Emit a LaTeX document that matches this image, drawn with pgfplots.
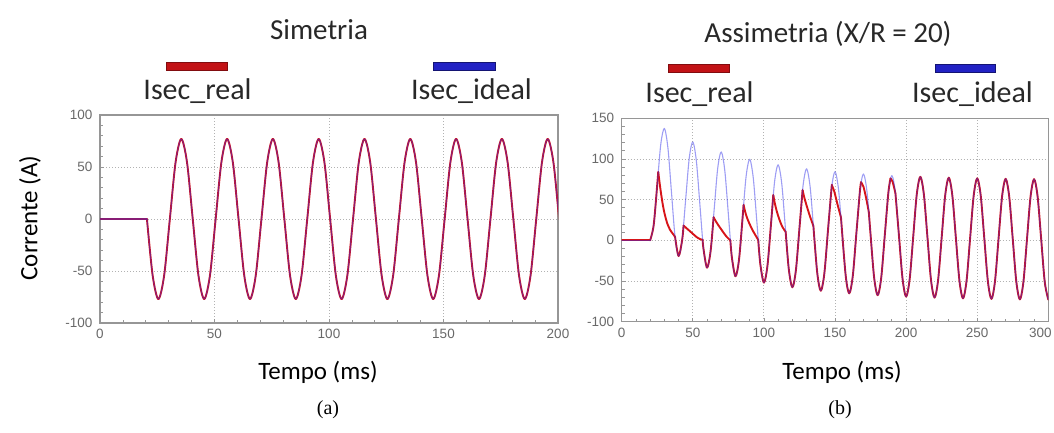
\documentclass[border=0pt]{standalone}
\usepackage{fontspec}
\setmainfont{Carlito}
\newfontfamily\tickfont{Liberation Sans}
\newfontfamily\capfont{Liberation Serif}
\usepackage{pgfplots}
\pgfplotsset{compat=1.18}
\usepackage{pgfplotstable}
\definecolor{rl}{RGB}{215,20,25}
\definecolor{bl}{RGB}{40,40,230}
\definecolor{tk}{RGB}{105,105,105}
\definecolor{fr}{RGB}{150,150,150}
\definecolor{tx}{RGB}{40,40,40}

\pgfplotstableread[row sep=\\]{t v\\
20.5 0\\ 23 -54.45\\ 25.5 -77\\ 28 -54.45\\ 30.5 0\\ 33 54.45\\ 35.5 77\\ 38 54.45\\
40.5 0\\ 43 -54.45\\ 45.5 -77\\ 48 -54.45\\ 50.5 0\\ 53 54.45\\ 55.5 77\\ 58 54.45\\
60.5 0\\ 63 -54.45\\ 65.5 -77\\ 68 -54.45\\ 70.5 0\\ 73 54.45\\ 75.5 77\\ 78 54.45\\
80.5 0\\ 83 -54.45\\ 85.5 -77\\ 88 -54.45\\ 90.5 0\\ 93 54.45\\ 95.5 77\\ 98 54.45\\
100.5 0\\ 103 -54.45\\ 105.5 -77\\ 108 -54.45\\ 110.5 0\\ 113 54.45\\ 115.5 77\\ 118 54.45\\
120.5 0\\ 123 -54.45\\ 125.5 -77\\ 128 -54.45\\ 130.5 0\\ 133 54.45\\ 135.5 77\\ 138 54.45\\
140.5 0\\ 143 -54.45\\ 145.5 -77\\ 148 -54.45\\ 150.5 0\\ 153 54.45\\ 155.5 77\\ 158 54.45\\
160.5 0\\ 163 -54.45\\ 165.5 -77\\ 168 -54.45\\ 170.5 0\\ 173 54.45\\ 175.5 77\\ 178 54.45\\
180.5 0\\ 183 -54.45\\ 185.5 -77\\ 188 -54.45\\ 190.5 0\\ 193 54.45\\ 195.5 77\\ 198 54.45\\
200.5 0\\ 203 -54.45\\
}\simdata

\pgfplotstableread[row sep=\\]{t v\\
20 0\\ 22.5 18.92\\ 25 68.60\\ 27.5 118.38\\ 30 137.60\\ 32.5 113.56\\ 35 58.96\\ 37.5 4.44\\
40 -19.35\\ 42.5 0.29\\ 45 50.66\\ 47.5 101.11\\ 50 120.97\\ 52.5 97.55\\ 55 43.54\\ 57.5 -10.41\\
60 -33.63\\ 62.5 -13.46\\ 65 37.42\\ 67.5 88.36\\ 70 108.69\\ 72.5 85.73\\ 75 32.16\\ 77.5 -21.37\\
80 -44.19\\ 82.5 -23.63\\ 85 27.64\\ 87.5 78.94\\ 90 99.62\\ 92.5 77.00\\ 95 23.75\\ 97.5 -29.46\\
100 -51.98\\ 102.5 -31.13\\ 105 20.41\\ 107.5 71.98\\ 110 92.92\\ 112.5 70.55\\ 115 17.54\\ 117.5 -35.44\\
120 -57.74\\ 122.5 -36.67\\ 125 15.07\\ 127.5 66.84\\ 130 87.98\\ 132.5 65.79\\ 135 12.96\\ 137.5 -39.85\\
140 -61.99\\ 142.5 -40.77\\ 145 11.13\\ 147.5 63.05\\ 150 84.32\\ 152.5 62.27\\ 155 9.57\\ 157.5 -43.12\\
160 -65.13\\ 162.5 -43.79\\ 165 8.22\\ 167.5 60.25\\ 170 81.62\\ 172.5 59.67\\ 175 7.06\\ 177.5 -45.53\\
180 -67.45\\ 182.5 -46.02\\ 185 6.07\\ 187.5 58.18\\ 190 79.63\\ 192.5 57.75\\ 195 5.22\\ 197.5 -47.30\\
200 -69.16\\ 202.5 -47.67\\ 205 4.49\\ 207.5 56.65\\ 210 78.16\\ 212.5 56.33\\ 215 3.86\\ 217.5 -48.62\\
220 -70.43\\ 222.5 -48.89\\ 225 3.31\\ 227.5 55.52\\ 230 77.07\\ 232.5 55.29\\ 235 2.85\\ 237.5 -49.59\\
240 -71.36\\ 242.5 -49.79\\ 245 2.45\\ 247.5 54.69\\ 250 76.27\\ 252.5 54.52\\ 255 2.10\\ 257.5 -50.30\\
260 -72.05\\ 262.5 -50.45\\ 265 1.81\\ 267.5 54.07\\ 270 75.67\\ 272.5 53.94\\ 275 1.55\\ 277.5 -50.84\\
280 -72.56\\ 282.5 -50.94\\ 285 1.33\\ 287.5 53.61\\ 290 75.24\\ 292.5 53.52\\ 295 1.15\\ 297.5 -51.23\\
300 -72.94\\
}\asymideal

\pgfplotstableread[row sep=\\]{t v\\
192.5 57.75\\ 195 5.22\\ 197.5 -47.30\\
200 -69.16\\ 202.5 -47.67\\ 205 4.49\\ 207.5 56.65\\ 210 78.16\\ 212.5 56.33\\ 215 3.86\\ 217.5 -48.62\\
220 -70.43\\ 222.5 -48.89\\ 225 3.31\\ 227.5 55.52\\ 230 77.07\\ 232.5 55.29\\ 235 2.85\\ 237.5 -49.59\\
240 -71.36\\ 242.5 -49.79\\ 245 2.45\\ 247.5 54.69\\ 250 76.27\\ 252.5 54.52\\ 255 2.10\\ 257.5 -50.30\\
260 -72.05\\ 262.5 -50.45\\ 265 1.81\\ 267.5 54.07\\ 270 75.67\\ 272.5 53.94\\ 275 1.55\\ 277.5 -50.84\\
280 -72.56\\ 282.5 -50.94\\ 285 1.33\\ 287.5 53.61\\ 290 75.24\\ 292.5 53.52\\ 295 1.15\\ 297.5 -51.23\\
300 -72.94\\
}\asymrealtail

\pgfplotsset{myax/.style={
  scale only axis,
  axis line style={fr, line width=1.1pt},
  tick style={fr, line width=0.8pt},
  major tick length=4pt, minor tick length=3pt,
  tick align=inside, xtick pos=bottom, ytick pos=left,
  grid=major,
  major grid style={gray!60, line width=0.9pt, dash pattern=on 1pt off 2pt},
  tick label style={font=\tickfont\fontsize{13.5}{13.5}\selectfont, text=tk},
  yticklabel style={xshift=-4pt},
  xticklabel style={yshift=-3pt},
  minor x tick num=4, minor y tick num=4,
  every axis plot/.append style={line join=round, line cap=round},
}}
\tikzset{
  realln/.style={rl, line width=1.9pt, smooth},
  idealln/.style={bl, line width=1.1pt, opacity=0.45, smooth},
}

\begin{document}
\begin{tikzpicture}[x=1pt,y=1pt]
\useasboundingbox (0,0) rectangle (1054,432);

% ---------------- (a) Simetria ----------------
\begin{axis}[myax, at={(100pt,109pt)}, anchor=south west,
  width=458pt, height=208pt,
  xmin=0, xmax=200, ymin=-100, ymax=100,
  xtick={0,50,100,150,200}, xticklabels={0,50,100,150,200},
  ytick={-100,-50,0,50,100}, yticklabels={-100,-50,0,50,100}]
\addplot[rl, line width=1.9pt] coordinates {(0,0) (20.5,0)};
\addplot[realln] table[x=t,y=v] {\simdata};
\addplot[bl, line width=1.1pt, opacity=0.45] coordinates {(0,0) (20.5,0)};
\addplot[idealln] table[x=t,y=v] {\simdata};
\end{axis}

% ---------------- (b) Assimetria ----------------
\begin{axis}[myax, at={(621.7pt,110.3pt)}, anchor=south west,
  width=426.6pt, height=203.4pt,
  xmin=0, xmax=300, ymin=-100, ymax=150,
  xtick={0,50,100,150,200,250,300},
  xticklabels={0,50,100,150,200,250,\hspace*{-16pt}300},
  ytick={-100,-50,0,50,100,150}, yticklabels={-100,-50,0,50,100,150}]
% real (saturated CT)
\addplot[rl, line width=1.9pt] coordinates {(0,0) (20,0)};
\addplot[realln] coordinates {(20,0) (22.5,18.92) (25,68.60) (25.7,84)};
\addplot[realln] coordinates {(25.7,84) (27,66) (28.5,48) (30,34) (32,21) (34,13) (36,8) (37.5,4.44)};
\addplot[realln] coordinates {(37.5,4.44) (40,-19.35) (42.5,0.29) (43.5,18.2)};
\addplot[realln] coordinates {(43.5,18.2) (45.5,15) (48,11.2) (50.5,7.3) (53,3.6) (55,1.6) (56.9,0.7)};
\addplot[realln] coordinates {(56.9,0.7) (57.5,-10.41) (60,-33.63) (62.5,-13.46) (64.6,28.4)};
\addplot[realln] coordinates {(64.6,28.4) (66,24) (68,18.5) (70,13.5) (72,8.5) (74,4) (76.4,0)};
\addplot[realln] coordinates {(76.4,0) (77.5,-21.37) (80,-44.19) (82.5,-23.63) (85,27.64) (85.7,43.5)};
\addplot[realln] coordinates {(85.7,43.5) (87,34) (88.5,26) (90.5,18) (92.5,11) (94.5,5) (96,0.5)};
\addplot[realln] coordinates {(96,0.5) (97.5,-29.46) (100,-51.98) (102.5,-31.13) (105,20.41) (106.6,55.6)};
\addplot[realln] coordinates {(106.6,55.6) (107.5,47) (109,36) (111,25) (113,16.5) (115.3,10.5)};
\addplot[realln] coordinates {(115.3,10.5) (117.5,-35.44) (120,-57.74) (122.5,-36.67) (125,15.07) (127.2,61.7)};
\addplot[realln] coordinates {(127.2,61.7) (128.5,52) (130.5,40) (132.5,29) (134.8,17.7)};
\addplot[realln] coordinates {(134.8,17.7) (137.5,-39.85) (140,-61.99) (142.5,-40.77) (145,11.13) (147.5,63.05) (147.8,67.7)};
\addplot[realln] coordinates {(147.8,67.7) (149.5,60) (151.5,46) (154.2,28.1)};
\addplot[realln] coordinates {(154.2,28.1) (157.5,-43.12) (160,-65.13) (162.5,-43.79) (165,8.22) (167.5,60.25) (168.3,71.5)};
\addplot[realln] coordinates {(168.3,71.5) (170,66) (172,51) (173.8,34.4)};
\addplot[realln] coordinates {(173.8,34.4) (175,7.06) (177.5,-45.53) (180,-67.45) (182.5,-46.02) (185,6.07) (187.5,58.18) (189,76.1)};
\addplot[realln] coordinates {(189,76.1) (190.5,72) (192.5,57.75)};
\addplot[realln] table[x=t,y=v] {\asymrealtail};
% ideal
\addplot[bl, line width=1.1pt, opacity=0.45] coordinates {(0,0) (20,0)};
\addplot[idealln] table[x=t,y=v] {\asymideal};
\end{axis}

% ---------------- texts and legends ----------------
\node[font=\fontsize{29}{29}\selectfont, text=tx, anchor=base] at (319,392) {Simetria};
\node[font=\fontsize{29}{29}\selectfont, text=tx, anchor=base] at (828,389) {Assimetria (X/R = 20)};

\fill[rl!90!black, draw=rl!60!black, line width=0.6pt] (166.7,362) rectangle (227.7,370);
\fill[bl!85!black, draw=bl!50!black, line width=0.6pt] (433,362) rectangle (495,370);
\node[font=\fontsize{30}{30}\selectfont, text=tx, anchor=base] at (197.5,333) {Isec\_real};
\node[font=\fontsize{30}{30}\selectfont, text=tx, anchor=base] at (471.5,333) {Isec\_ideal};

\fill[rl!90!black, draw=rl!60!black, line width=0.6pt] (668,360) rectangle (729,368);
\fill[bl!85!black, draw=bl!50!black, line width=0.6pt] (935,360) rectangle (995,368);
\node[font=\fontsize{30}{30}\selectfont, text=tx, anchor=base] at (699.5,330) {Isec\_real};
\node[font=\fontsize{30}{30}\selectfont, text=tx, anchor=base] at (972.5,330) {Isec\_ideal};

\node[font=\fontsize{25}{25}\selectfont, text=black, rotate=90] at (30,214) {Corrente (A)};
\node[font=\fontsize{25}{25}\selectfont, text=black] at (318,60) {Tempo (ms)};
\node[font=\fontsize{25}{25}\selectfont, text=black] at (842,60) {Tempo (ms)};
\node[font=\capfont\fontsize{20}{20}\selectfont, text=black] at (328,22) {(a)};
\node[font=\capfont\fontsize{20}{20}\selectfont, text=black] at (840,22) {(b)};
\end{tikzpicture}
\end{document}
